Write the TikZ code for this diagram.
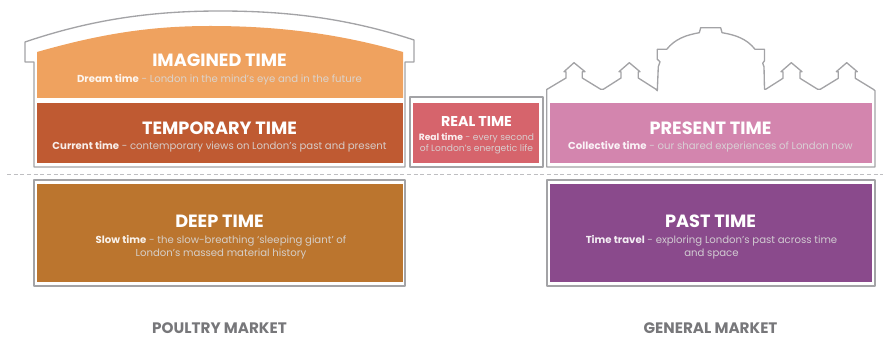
\documentclass[tikz,border=0pt]{standalone}
\usepackage{fontspec}
\setmainfont{Poppins}
\definecolor{imag}{HTML}{EFA25F}
\definecolor{temp}{HTML}{BF5A32}
\definecolor{realc}{HTML}{D6646C}
\definecolor{pres}{HTML}{D385AE}
\definecolor{deep}{HTML}{BB752E}
\definecolor{past}{HTML}{8A4A8C}
\definecolor{outl}{HTML}{A3A3A6}
\definecolor{cap}{HTML}{77777A}
\tikzset{
 x=0.75pt,y=-0.75pt,
 outline/.style={draw=outl,line width=1pt,line join=round},
 ttl/.style={text=white,font=\fontsize{13.3pt}{15pt}\selectfont\bfseries,anchor=center,inner sep=0pt},
 ttlsm/.style={text=white,font=\fontsize{10.7pt}{12pt}\selectfont\bfseries,anchor=center,inner sep=0pt},
 sub/.style={text=white!85!black,text opacity=.9,font=\fontsize{7.6pt}{9.75pt}\selectfont,align=center,anchor=center,inner sep=0pt},
 subsm/.style={sub,font=\fontsize{6.85pt}{8.8pt}\selectfont},
 capt/.style={text=cap,font=\fontsize{11.4pt}{13pt}\selectfont\bfseries,anchor=center,inner sep=0pt},
}
\newcommand{\bt}[1]{\textcolor{white}{\textbf{#1}}}
\begin{document}
\begin{tikzpicture}
\useasboundingbox (0,0) rectangle (883,338);
% outlines
\draw[outline] (25,62) -- (25,42) .. controls (90,20) and (150,11) .. (220,11) .. controls (290,11) and (350,19) .. (414,40) -- (414,62) -- (405,62) -- (405,167) -- (34,167) -- (34,62) -- cycle;
\draw[outline] (410,97) rectangle (543,167);
\draw[outline] (546.7,167) -- (546.7,89.5) -- (566,78) -- (566,71.7) -- (564,71.7) -- (574,62.7) -- (585,71.7) -- (582.3,71.7) -- (582.3,78) -- (600.7,89.3) -- (603.3,89.3) -- (621,78) -- (621,71.7) -- (619,71.7) -- (629.3,62.7) -- (640,71.7) -- (638.3,71.7) -- (638.3,78) -- (656,89.3) -- (657.3,90.7) -- (658.3,66.7) -- (660,61.7) -- (657.3,59.3) -- (657.3,49.3) -- (666.7,49.3) .. controls (675,39) and (686,35) .. (699.3,32.7) -- (700.7,27.7) -- (720.7,27.7) -- (722,32.7) .. controls (736,35) and (747,39) .. (755,49.3) -- (764.5,49.3) -- (764.5,60.7) -- (762.7,63.3) -- (764,66.7) -- (764.5,89.3) -- (765.7,89.3) -- (783,78.3) -- (783,71.7) -- (781,71.7) -- (791.3,62.7) -- (802,71.7) -- (800,71.7) -- (800,78.3) -- (817.7,89.3) -- (820.3,89.3) -- (838.3,78.3) -- (838.3,71.7) -- (836.3,71.7) -- (846.7,62.7) -- (857.3,71.7) -- (855.3,71.7) -- (855.3,78.3) -- (873.3,89.3) -- (875,90.7) -- (875,167) -- cycle;
\draw[outl!70,line width=0.7pt,dash pattern=on 3pt off 2pt] (7,174) -- (883,174);
\draw[outline] (34,180) rectangle (405,286);
\draw[outline] (547,180) rectangle (875,286);
% fills
\fill[imag] (37,52) .. controls (100,34) and (150,26) .. (210,26) .. controls (280,26) and (340,34) .. (403,52) -- (403,98) -- (37,98) -- cycle;
\path[fill=temp] (37,103) rectangle (403,163);
\path[fill=realc] (413,103) rectangle (539,163);
\path[fill=pres] (550,103) rectangle (872,163);
\path[fill=deep] (37,184) rectangle (403,282);
\path[fill=past] (550,184) rectangle (872,282);
% text
\node[ttl] (t1) at (219.5,60.5) {IMAGINED TIME};
\node[sub] (s1) at (219.5,79.5) {\bt{Dream time} - London in the mind’s eye and in the future};
\node[ttl] (t2) at (219.5,128) {TEMPORARY TIME};
\node[sub] (s2) at (219.5,147) {\bt{Current time} - contemporary views on London’s past and present};
\node[ttlsm] (t3) at (476.5,121) {REAL TIME};
\node[subsm] (s3) at (476.5,143.5) {\bt{Real time} - every second\\of London’s energetic life};
\node[ttl] (t4) at (710.5,128) {PRESENT TIME};
\node[sub] (s4) at (710.5,147) {\bt{Collective time} - our shared experiences of London now};
\node[ttl] (t5) at (219.5,221.5) {DEEP TIME};
\node[sub] (s5) at (221,247.5) {\bt{Slow time} - the slow-breathing ‘sleeping giant’ of\\London’s massed material history};
\node[ttl] (t6) at (710.5,221.5) {PAST TIME};
\node[sub] (s6) at (711.5,247.5) {\bt{Time travel} - exploring London’s past across time\\and space};
\node[capt] (c1) at (219.5,328.5) {POULTRY MARKET};
\node[capt] (c2) at (710.5,328.5) {GENERAL MARKET};
\end{tikzpicture}
\end{document}
